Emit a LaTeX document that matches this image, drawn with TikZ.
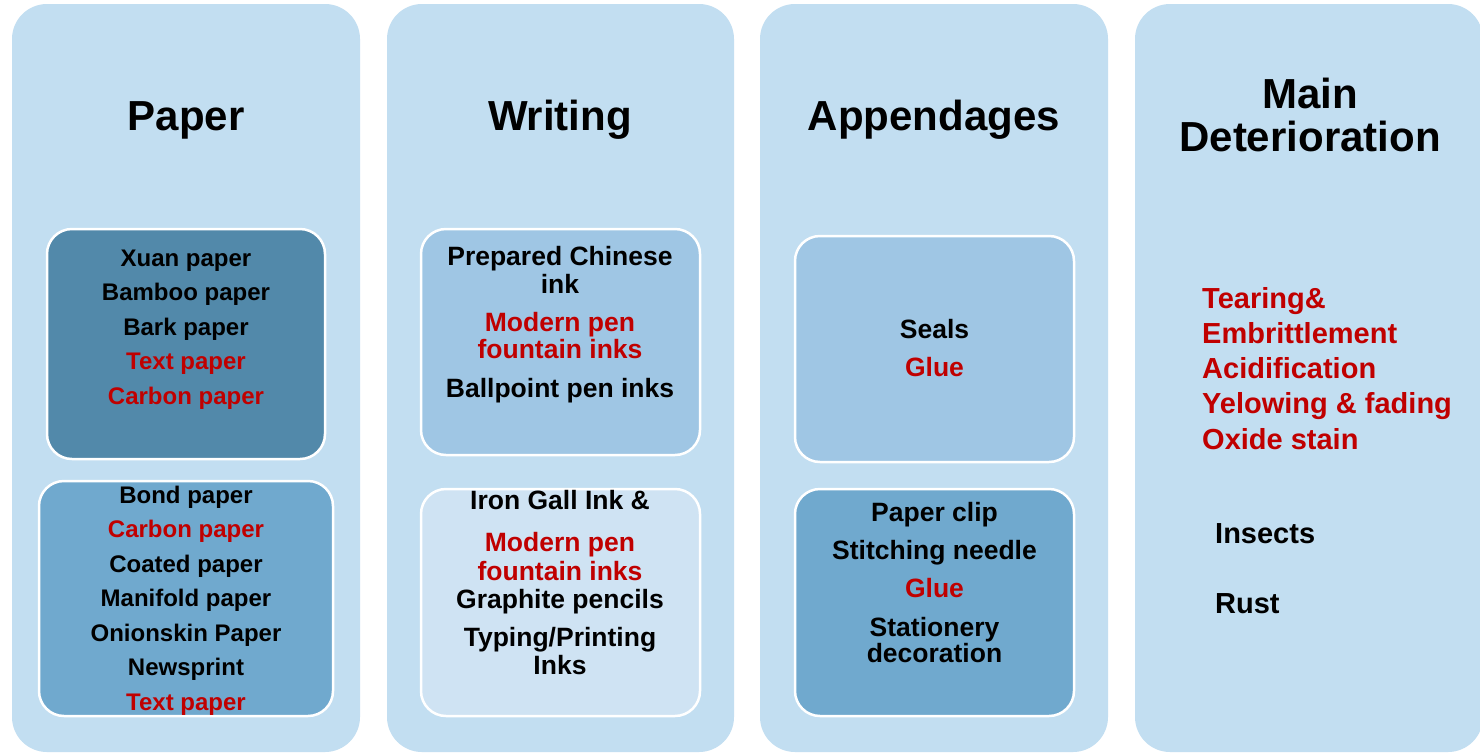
\documentclass[tikz,border=0pt]{standalone}
\usepackage{fontspec}
\setmainfont{Liberation Sans}
\definecolor{colbg}{HTML}{C2DEF1}
\definecolor{deepbox}{HTML}{5289AA}
\definecolor{midbox}{HTML}{70A9CE}
\definecolor{softbox}{HTML}{9FC6E4}
\definecolor{paleBox}{HTML}{CFE3F3}
\definecolor{alert}{HTML}{C00000}
\tikzset{
  column/.style={fill=colbg, draw=none, rounded corners=35pt, inner sep=0pt},
  group/.style={draw=white, line width=2.5pt, rounded corners=25pt, inner sep=0pt},
  heading/.style={anchor=base, inner sep=0pt, font=\bfseries\fontsize{42}{42}\selectfont},
  itemS/.style={anchor=base, inner sep=0pt, font=\bfseries\fontsize{24}{24}\selectfont},
  itemM/.style={anchor=base, inner sep=0pt, font=\bfseries\fontsize{26.5}{26.5}\selectfont},
  itemL/.style={anchor=base west, inner sep=0pt, font=\bfseries\fontsize{29}{29}\selectfont},
  hot/.style={text=alert},
}
\begin{document}
\begin{tikzpicture}[x=1pt,y=-1pt]
\useasboundingbox (0,0) rectangle (1480,753);
\fill[white] (0,0) rectangle (1480,753);

% four category columns
\node[column, minimum width=348, minimum height=748] (c1) at (186,378) {};
\node[column, minimum width=347, minimum height=748] (c2) at (560.5,378) {};
\node[column, minimum width=348, minimum height=748] (c3) at (934,378) {};
\node[column, minimum width=348, minimum height=748] (c4) at (1309,378) {};

% headings
\node[heading] (h1) at (186,130) {Paper};
\node[heading] (h2) at (560,130) {Writing};
\node[heading] (h3) at (934,130) {Appendages};
\node[heading] (h4a) at (1310,108) {Main};
\node[heading] (h4b) at (1310,151.5) {Deterioration};

% inner groups
\node[group, fill=deepbox, minimum width=278, minimum height=230] (g1a) at (186,344) {};
\node[group, fill=midbox, minimum width=294, minimum height=235] (g1b) at (186,598.5) {};
\node[group, fill=softbox, minimum width=279, minimum height=226] (g2a) at (560.5,342) {};
\node[group, fill=paleBox, minimum width=279, minimum height=227] (g2b) at (560.5,602.5) {};
\node[group, fill=softbox, minimum width=279, minimum height=226] (g3a) at (934.5,349) {};
\node[group, fill=midbox, minimum width=279, minimum height=227] (g3b) at (934.5,602.5) {};

% Paper: traditional papers
\node[itemS] (p1) at (186,266) {Xuan paper};
\node[itemS] (p2) at (186,300.5) {Bamboo paper};
\node[itemS] (p3) at (186,335) {Bark paper};
\node[itemS, hot] (p4) at (186,369.5) {Text paper};
\node[itemS, hot] (p5) at (186,404) {Carbon paper};

% Paper: modern papers
\node[itemS] (q1) at (186,503) {Bond paper};
\node[itemS, hot] (q2) at (186,537.5) {Carbon paper};
\node[itemS] (q3) at (186,572) {Coated paper};
\node[itemS] (q4) at (186,606.5) {Manifold paper};
\node[itemS] (q5) at (186,641) {Onionskin Paper};
\node[itemS] (q6) at (186,675.5) {Newsprint};
\node[itemS, hot] (q7) at (186,710) {Text paper};

% Writing: inks
\node[itemM] (w1) at (560,265) {Prepared Chinese};
\node[itemM] (w2) at (560,293) {ink};
\node[itemM, hot] (w3) at (560,331) {Modern pen};
\node[itemM, hot] (w4) at (560,358.5) {fountain inks};
\node[itemM] (w5) at (560,397) {Ballpoint pen inks};

% Writing: other media
\node[itemM] (x1) at (560,509.5) {Iron Gall Ink \&};
\node[itemM, hot] (x2) at (560,551) {Modern pen};
\node[itemM, hot] (x3) at (560,580) {fountain inks};
\node[itemM] (x4) at (560,608.5) {Graphite pencils};
\node[itemM] (x5) at (560,646.5) {Typing/Printing};
\node[itemM] (x6) at (560,674) {Inks};

% Appendages
\node[itemM] (a1) at (934.5,338.5) {Seals};
\node[itemM, hot] (a2) at (934.5,376) {Glue};
\node[itemM] (b1) at (934.5,521) {Paper clip};
\node[itemM] (b2) at (934.5,559.5) {Stitching needle};
\node[itemM, hot] (b3) at (934.5,597.5) {Glue};
\node[itemM] (b4) at (934.5,636.5) {Stationery};
\node[itemM] (b5) at (934.5,662.5) {decoration};

% Main deterioration
\node[itemL, hot] (d1) at (1202,308.5) {Tearing\&};
\node[itemL, hot] (d2) at (1202,343.5) {Embrittlement};
\node[itemL, hot] (d3) at (1202,378.5) {Acidification};
\node[itemL, hot] (d4) at (1202,413.5) {Yelowing \& fading};
\node[itemL, hot] (d5) at (1202,449) {Oxide stain};
\node[itemL] (d6) at (1215,543.5) {Insects};
\node[itemL] (d7) at (1215,613) {Rust};
\end{tikzpicture}
\end{document}
